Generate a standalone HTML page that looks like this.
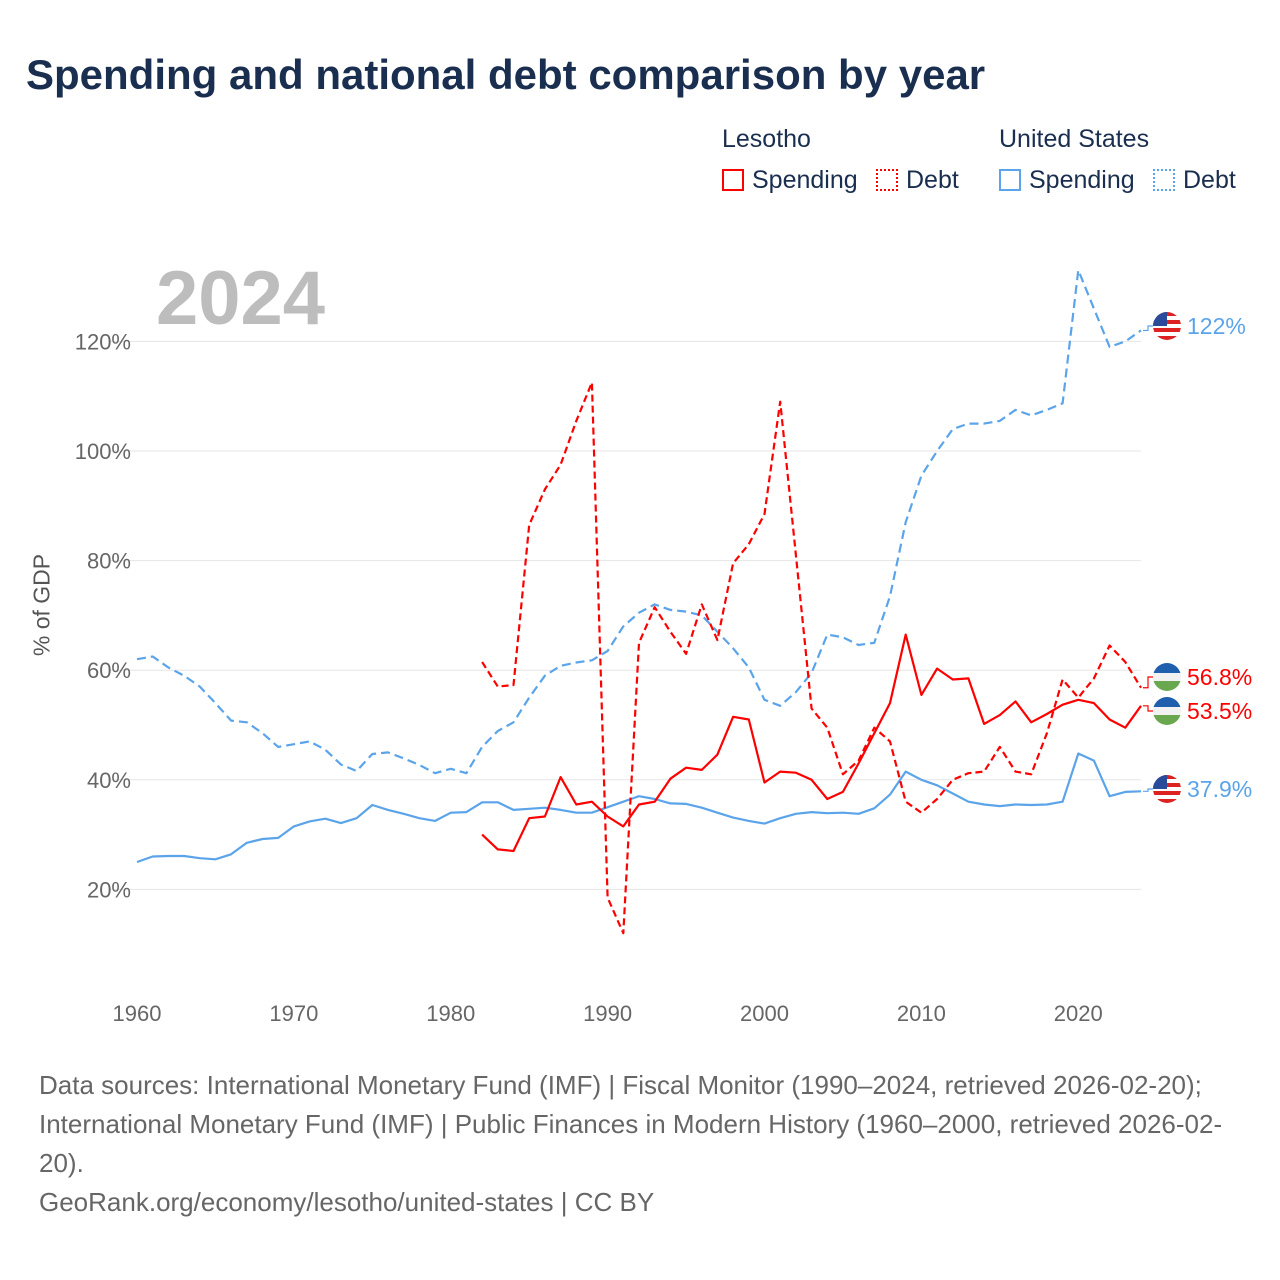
<!DOCTYPE html>
<html><head><meta charset="utf-8"><style>
body{margin:0;background:#fff;font-family:"Liberation Sans",sans-serif;}
#wrap{position:relative;width:1280px;height:1280px;overflow:hidden;}
.t{position:absolute;white-space:nowrap;}
</style></head><body>
<div id="wrap">
<div class="t" style="left:26px;top:51px;font-size:42px;font-weight:bold;color:#1a2e4f;">Spending and national debt comparison by year</div>
<div class="t" style="left:722px;top:125px;font-size:25px;color:#1a2e4f;">Lesotho</div>
<div class="t" style="left:999px;top:125px;font-size:25px;color:#1a2e4f;">United States</div>
<div class="t" style="left:722px;top:166px;font-size:25px;color:#1a2e4f;"><span style="display:inline-block;width:22px;height:22px;border:2px solid #f00;box-sizing:border-box;vertical-align:-3px;margin-right:8px"></span>Spending</div>
<div class="t" style="left:876px;top:166px;font-size:25px;color:#1a2e4f;"><span style="display:inline-block;width:22px;height:22px;border:2px dotted #f00;box-sizing:border-box;vertical-align:-3px;margin-right:8px"></span>Debt</div>
<div class="t" style="left:999px;top:166px;font-size:25px;color:#1a2e4f;"><span style="display:inline-block;width:22px;height:22px;border:2px solid #5ba4ea;box-sizing:border-box;vertical-align:-3px;margin-right:8px"></span>Spending</div>
<div class="t" style="left:1153px;top:166px;font-size:25px;color:#1a2e4f;"><span style="display:inline-block;width:22px;height:22px;border:2px dotted #5ba4ea;box-sizing:border-box;vertical-align:-3px;margin-right:8px"></span>Debt</div>
<div class="t" style="left:156px;top:255px;font-size:76px;font-weight:bold;color:#bdbdbd;">2024</div>
<div class="t" style="left:42px;top:605px;font-size:23px;color:#555;transform:translate(-50%,-50%) rotate(-90deg);">% of GDP</div>
<svg id="chart" width="1280" height="1280" style="position:absolute;left:0;top:0"></svg>
<div class="t" style="left:39px;top:1066px;font-size:26px;line-height:39px;color:#666;">Data sources: International Monetary Fund (IMF) | Fiscal Monitor (1990–2024, retrieved 2026-02-20);<br>International Monetary Fund (IMF) | Public Finances in Modern History (1960–2000, retrieved 2026-02-<br>20).<br>GeoRank.org/economy/lesotho/united-states | CC BY</div>
</div>
<script>
const usSpending=[25,26,26.1,26.1,25.7,25.5,26.4,28.5,29.2,29.4,31.5,32.4,32.9,32.1,33,35.4,34.5,33.8,33,32.5,34,34.1,35.9,35.9,34.5,34.7,34.9,34.5,34,34,35,36,37,36.5,35.7,35.6,34.9,34,33.1,32.5,32,33,33.8,34.1,33.9,34,33.8,34.8,37.3,41.5,40,39,37.5,36,35.5,35.2,35.5,35.4,35.5,36,44.8,43.5,37,37.8,37.9];
const usDebt=[62,62.5,60.5,59,57,54,50.8,50.5,48.5,46,46.5,47,45.5,42.8,41.6,44.7,45,43.9,42.7,41.2,42,41.2,46,48.9,50.5,55,59,60.8,61.4,61.8,63.5,68,70.5,72,71,70.7,70,67,64,60.5,54.6,53.5,56,59.5,66.5,66,64.6,65,73.5,87,95.5,100,104,105,105,105.5,107.5,106.5,107.5,108.7,133,126,119,120,122];
const lsSpending=[30,27.3,27,33,33.3,40.5,35.5,36,33.3,31.5,35.5,36,40.2,42.2,41.8,44.6,51.5,51,39.5,41.5,41.3,40,36.5,37.8,43,48.5,54,66.5,55.5,60.3,58.3,58.5,50.2,51.8,54.3,50.5,52,53.7,54.6,54,51,49.5,53.5];
const lsDebt=[61.5,57,57.3,86.5,93,97.5,105.5,112.5,18.5,12,65,71.5,67,63,72,65.5,79.5,83,88.5,109,81,53,49.5,41,43.5,49.5,47,36,34,36.5,40,41.2,41.5,46,41.5,41,48.5,58.3,55,58.5,64.5,61.5,56.8];
const yTicks=[20,40,60,80,100,120];
const xTicks=[1960,1970,1980,1990,2000,2010,2020];
const endLabels=["122%","56.8%","53.5%","37.9%"];
const NS="http://www.w3.org/2000/svg";
const svg=document.getElementById('chart');
const X=yr=>137+(yr-1960)*(1004/64);
const Y=v=>999-v*5.48;
function mk(t,a){const e=document.createElementNS(NS,t);for(const k in a)e.setAttribute(k,a[k]);svg.appendChild(e);return e;}
yTicks.forEach(v=>{
 const g=mk('line',{x1:110,x2:1141,y1:Y(v),y2:Y(v),stroke:'#e6e6e6','stroke-width':1});
 
 
 const t=mk('text',{x:131,y:Y(v)+8,'text-anchor':'end','font-size':22,fill:'#666','font-family':'Liberation Sans, sans-serif'});
 t.textContent=v+'%';
 
 
});
xTicks.forEach(yr=>{
 const t=mk('text',{x:X(yr),y:1021,'text-anchor':'middle','font-size':22,fill:'#666','font-family':'Liberation Sans, sans-serif'});
 t.textContent=yr;
 
 
});
function line(data,start,color,dash,name){
 const d=data.map((v,i)=>(i?'L':'M')+X(start+i).toFixed(1)+','+Y(v).toFixed(1)).join('');
 const p=mk('path',{d:d,fill:'none',stroke:color,'stroke-width':2.2,'stroke-dasharray':dash||'none','stroke-linejoin':'round'});
 
 
}
line(usDebt,1960,'#5ba4ea','9,5','us-debt-line');
line(usSpending,1960,'#5ba4ea','','us-spending-line');
line(lsDebt,1982,'#f00','7,4','lesotho-debt-line');
line(lsSpending,1982,'#f00','','lesotho-spending-line');
const ends=[[usDebt[usDebt.length-1],326,'#5ba4ea','us'],[lsDebt[lsDebt.length-1],677,'#f00','ls'],[lsSpending[lsSpending.length-1],711,'#f00','ls'],[usSpending[usSpending.length-1],789,'#5ba4ea','us']];
ends.forEach((e,i)=>{
 const c=mk('path',{d:`M1143,${Y(e[0])}H1148V${e[1]}H1153`,fill:'none',stroke:e[2],'stroke-width':1.2});
 
 
 const g=mk('g',{});
 
 
 const cx=1167,cy=e[1];
 if(e[3]=='us'){
  [['#d22',-14],['#fff',-10],['#d22',-6],['#fff',-2],['#d22',2],['#fff',6],['#d22',10]].forEach(s=>{const r=document.createElementNS(NS,'rect');r.setAttribute('x',cx-14);r.setAttribute('y',cy+s[1]);r.setAttribute('width',28);r.setAttribute('height',4);r.setAttribute('fill',s[0]);r.setAttribute('clip-path','url(#cc'+i+')');g.appendChild(r);});
  const b=document.createElementNS(NS,'rect');b.setAttribute('x',cx-14);b.setAttribute('y',cy-14);b.setAttribute('width',14);b.setAttribute('height',14);b.setAttribute('fill','#2a4a9a');b.setAttribute('clip-path','url(#cc'+i+')');g.appendChild(b);
 }else{
  [['#1f5fae',-14,10],['#f2f2f2',-4,8],['#6aa84f',4,10]].forEach(s=>{const r=document.createElementNS(NS,'rect');r.setAttribute('x',cx-14);r.setAttribute('y',cy+s[1]);r.setAttribute('width',28);r.setAttribute('height',s[2]);r.setAttribute('fill',s[0]);r.setAttribute('clip-path','url(#cc'+i+')');g.appendChild(r);});
 }
 const cp=document.createElementNS(NS,'clipPath');cp.id='cc'+i;const cc=document.createElementNS(NS,'circle');cc.setAttribute('cx',cx);cc.setAttribute('cy',cy);cc.setAttribute('r',14);cp.appendChild(cc);g.appendChild(cp);
 const t=mk('text',{x:1187,y:e[1]+8,'font-size':23,fill:e[2],'font-family':'Liberation Sans, sans-serif'});
 t.textContent=endLabels[i];
 
 
});
</script>
</body></html>
